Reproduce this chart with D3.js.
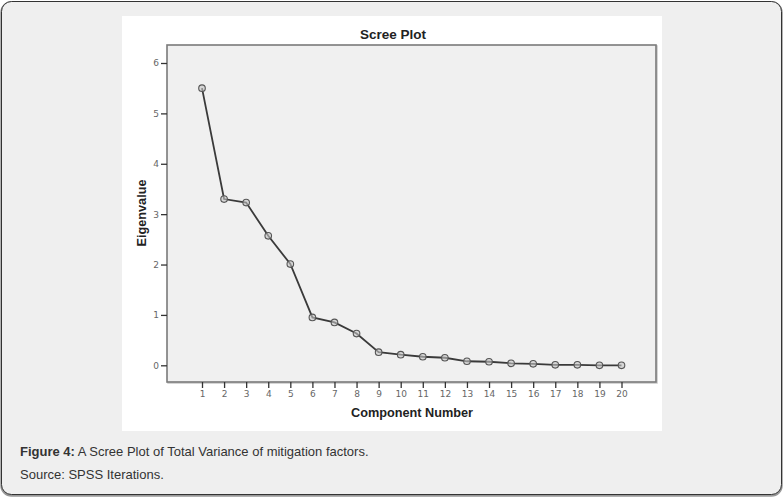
<!DOCTYPE html>
<html><head><meta charset="utf-8">
<script src="https://cdn.jsdelivr.net/npm/d3@7"></script>
<style>
html,body{margin:0;padding:0;background:#fff;}
svg{display:block;font-family:"Liberation Sans",Arial,sans-serif;}
</style></head>
<body>
<svg id="c" width="783" height="499"></svg>
<script>
const components = [1,2,3,4,5,6,7,8,9,10,11,12,13,14,15,16,17,18,19,20];
const eigenvalues = [5.50,3.30,3.23,2.57,2.01,0.95,0.85,0.63,0.26,0.21,0.17,0.15,0.08,0.07,0.04,0.03,0.01,0.01,0.00,0.00];
const yTicks = [0,1,2,3,4,5,6];
const titleText = "Scree Plot";
const xLabel = "Component Number";
const yLabel = "Eigenvalue";

const svg = d3.select("#c");
// outer panel
svg.append("rect").attr("x",1.5).attr("y",2.5).attr("width",780).attr("height",493)
  .attr("rx",10).attr("fill","#efefef").attr("stroke","#999").attr("stroke-width",2.5);
svg.append("rect").attr("x",1.5).attr("y",1.5).attr("width",780).attr("height",493)
  .attr("rx",10).attr("fill","#efefef").attr("stroke","#333").attr("stroke-width",1);
// white image region
svg.append("rect").attr("x",122).attr("y",16).attr("width",540).attr("height",415).attr("fill","#fff");

const L=167, R=656, T=45, B=382;
const x = d3.scaleLinear().domain([1,20]).range([202,621.5]);
const y = d3.scaleLinear().domain([0,6]).range([365.3,63]);

// plot frame
svg.append("rect").attr("x",L+1).attr("y",T+1).attr("width",R-L).attr("height",B-T)
  .attr("fill","none").attr("stroke","#c8c8c8").attr("stroke-width",1.5);
svg.append("rect").attr("x",L).attr("y",T).attr("width",R-L).attr("height",B-T)
  .attr("fill","#f0f0f0").attr("stroke","#7a7a7a").attr("stroke-width",1.6);

// y axis
const ya = svg.append("g").attr("transform",`translate(${L},0)`)
  .call(d3.axisLeft(y).tickValues(yTicks).tickSize(6).tickPadding(2).tickFormat(d3.format("d")));
ya.select(".domain").remove();
ya.selectAll(".tick line").attr("stroke","#333").attr("stroke-width",1.3);
ya.selectAll(".tick text").attr("fill","#666").attr("font-size","9px").attr("font-family","'DejaVu Sans',sans-serif");

// x axis
const xa = svg.append("g").attr("transform",`translate(0,${B})`)
  .call(d3.axisBottom(x).tickValues(components).tickSize(6).tickPadding(3).tickFormat(d3.format("d")));
xa.select(".domain").remove();
xa.selectAll(".tick line").attr("stroke","#333").attr("stroke-width",1.3);
xa.selectAll(".tick text").attr("fill","#666").attr("font-size","9px").attr("font-family","'DejaVu Sans',sans-serif");

// line
svg.append("path").datum(eigenvalues)
  .attr("d", d3.line().x((d,i)=>x(components[i])).y(d=>y(d)))
  .attr("fill","none").attr("stroke","#3a3a3a").attr("stroke-width",1.8);
svg.selectAll("circle.pt").data(eigenvalues).join("circle").attr("class","pt")
  .attr("cx",(d,i)=>x(components[i])).attr("cy",d=>y(d)).attr("r",3.3)
  .attr("fill","#c4c4c4").attr("fill-opacity",0.6).attr("stroke","#555").attr("stroke-width",1.1);

// titles
svg.append("text").attr("x",393).attr("y",39).attr("text-anchor","middle")
  .attr("font-weight","bold").attr("font-size","13.5px").attr("fill","#222").text(titleText);
svg.append("text").attr("x",412).attr("y",417).attr("text-anchor","middle")
  .attr("font-weight","bold").attr("font-size","12.7px").attr("fill","#222").text(xLabel);
svg.append("text").attr("transform","translate(146,213) rotate(-90)").attr("text-anchor","middle")
  .attr("font-weight","bold").attr("font-size","12.7px").attr("fill","#222").text(yLabel);

// caption
const cap = svg.append("text").attr("x",20).attr("y",456).attr("font-size","13px").attr("fill","#333");
cap.append("tspan").attr("font-weight","bold").text("Figure 4:");
cap.append("tspan").text(" A Scree Plot of Total Variance of mitigation factors.");
svg.append("text").attr("x",20).attr("y",479).attr("font-size","13px").attr("fill","#333").text("Source: SPSS Iterations.");
</script>
</body></html>
